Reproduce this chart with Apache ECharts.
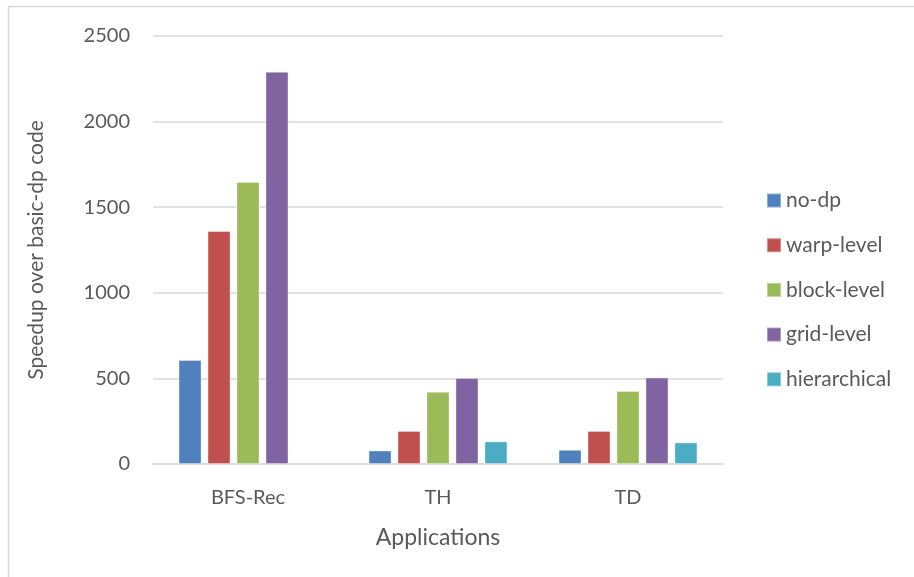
<!DOCTYPE html>
<html>
<head>
<meta charset="utf-8">
<title>Speedup over basic-dp code</title>
<script src="https://cdn.jsdelivr.net/npm/echarts@6/dist/echarts.min.js"></script>
<style>
  html, body { margin: 0; padding: 0; background: #ffffff; }
  #chart { width: 914px; height: 577px; }
</style>
</head>
<body>
<div id="chart"></div>
<script>
// Applications on the category axis
const categories = ['BFS-Rec', 'TH', 'TD'];

// Speedup of each dynamic-parallelism variant over basic-dp code
const noDp = [607, 79, 83];
const warpLevel = [1361, 193, 193];
const blockLevel = [1647, 422, 426];
const gridLevel = [2291, 503, 505];
const hierarchical = [null, 132, 126];

const yTicks = { min: 0, max: 2500, interval: 500 };

const seriesDefs = [
  { name: 'no-dp', data: noDp, color: '#4F81BD' },
  { name: 'warp-level', data: warpLevel, color: '#C0504D' },
  { name: 'block-level', data: blockLevel, color: '#9BBB59' },
  { name: 'grid-level', data: gridLevel, color: '#8064A2' },
  { name: 'hierarchical', data: hierarchical, color: '#4BACC6' }
];

const FONT = 'Lato, "Open Sans", sans-serif';
const TEXT = '#595959';
const GRIDLINE = '#D9D9D9';

const chart = echarts.init(document.getElementById('chart'), null, { renderer: 'canvas' });

chart.setOption({
  backgroundColor: '#ffffff',
  animation: false,
  textStyle: { fontFamily: FONT },
  graphic: [{
    type: 'rect',
    shape: { x: 8.5, y: 6.5, width: 920, height: 600 },
    style: { fill: 'none', stroke: GRIDLINE, lineWidth: 1.5 },
    silent: true
  }],
  grid: { left: 153, right: 191, top: 36, bottom: 113, containLabel: false },
  legend: {
    orient: 'vertical',
    left: 766,
    top: 190,
    padding: 0,
    icon: 'rect',
    itemWidth: 14,
    itemHeight: 14,
    itemGap: 23.7,
    textStyle: { fontFamily: FONT, fontSize: 21, color: TEXT, lineHeight: 21 },
    data: seriesDefs.map(s => s.name)
  },
  xAxis: {
    type: 'category',
    data: categories,
    name: 'Applications',
    nameLocation: 'middle',
    nameGap: 62,
    nameTextStyle: { fontFamily: FONT, fontSize: 23, color: TEXT },
    axisLine: { show: true, lineStyle: { color: GRIDLINE, width: 1.5 } },
    axisTick: { show: false },
    axisLabel: { fontFamily: FONT, fontSize: 20, color: TEXT, margin: 24 }
  },
  yAxis: {
    type: 'value',
    min: yTicks.min,
    max: yTicks.max,
    interval: yTicks.interval,
    name: 'Speedup over basic-dp code',
    nameLocation: 'middle',
    nameGap: 106,
    nameRotate: 90,
    nameTextStyle: { fontFamily: FONT, fontSize: 21, color: TEXT },
    axisLine: { show: false },
    axisTick: { show: false },
    axisLabel: {
      fontFamily: FONT, fontSize: 20, color: TEXT, margin: 23,
      formatter: v => String(v)
    },
    splitLine: { show: true, lineStyle: { color: GRIDLINE, width: 1.5 } }
  },
  series: seriesDefs.map(s => ({
    name: s.name,
    type: 'bar',
    data: s.data,
    barWidth: 23,
    barGap: '26%',
    barCategoryGap: '26.7%',
    itemStyle: {
      color: s.color,
      borderColor: 'rgba(255,255,255,0.35)',
      borderWidth: 1
    }
  }))
});
</script>
</body>
</html>
